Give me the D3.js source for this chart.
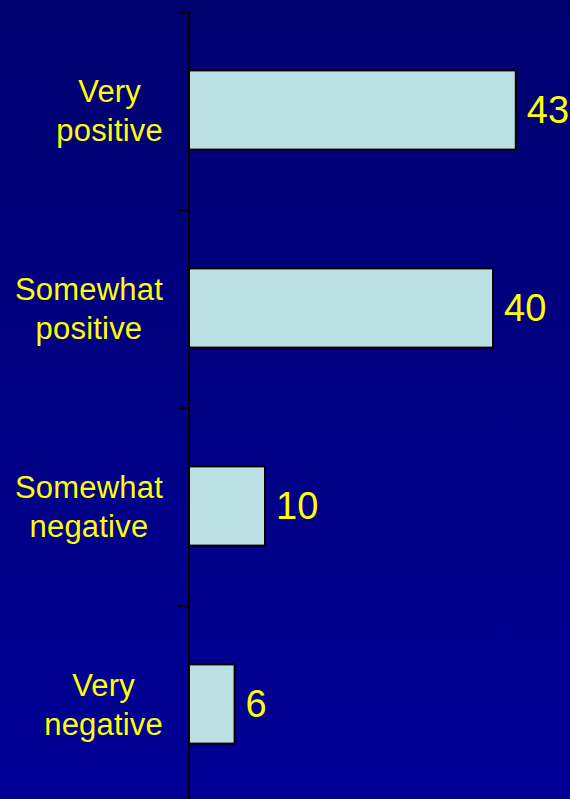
<!DOCTYPE html>
<html>
<head>
  <meta charset="utf-8">
  <title>Opinion bars</title>
  <style>
    body { margin: 0; background: #000080; }
    svg { display: block; }
    text { font-family: "Liberation Sans", Arial, sans-serif; fill: #FFFF00; }
  </style>
</head>
<body>
  <script src="https://cdn.jsdelivr.net/npm/d3@7/dist/d3.min.js"></script>
  <script>
    // data
    var categories = ["Very positive", "Somewhat positive", "Somewhat negative", "Very negative"];
    var labelLines = [["Very", "positive"], ["Somewhat", "positive"], ["Somewhat", "negative"], ["Very", "negative"]];
    var values = [43, 40, 10, 6];

    var width = 570, height = 799;
    var margin = {top: 12, left: 189};

    var svg = d3.select("body").append("svg")
      .attr("width", width)
      .attr("height", height);

    // background gradient, darker at top
    var defs = svg.append("defs");
    var grad = defs.append("linearGradient")
      .attr("id", "bg")
      .attr("x1", 0).attr("y1", 0).attr("x2", 0).attr("y2", 1);
    grad.append("stop").attr("offset", "0%").attr("stop-color", "#000070");
    grad.append("stop").attr("offset", "100%").attr("stop-color", "#000096");
    svg.append("rect").attr("width", width).attr("height", height).attr("fill", "url(#bg)");

    // scales
    var y = d3.scaleBand().domain(categories).range([margin.top, margin.top + 198 * 4]).padding(0);
    var yBar = d3.scaleBand().domain(categories).range([margin.top, margin.top + 198 * 4])
      .paddingInner(0.6).paddingOuter(0.3);
    var x = d3.scaleLinear().domain([0, 75]).range([margin.left, margin.left + 570]);

    // bars
    svg.append("g").selectAll("rect")
      .data(categories)
      .enter().append("rect")
      .attr("x", x(0))
      .attr("y", function(d) { return yBar(d) - 1; })
      .attr("width", function(d, i) { return x(values[i]) - x(0); })
      .attr("height", yBar.bandwidth())
      .attr("fill", "#BBE0E3")
      .attr("stroke", "#000")
      .attr("stroke-width", 2);

    // axis line and ticks at band boundaries
    var axis = svg.append("g");
    axis.append("line")
      .attr("x1", x(0)).attr("x2", x(0))
      .attr("y1", margin.top).attr("y2", height)
      .attr("stroke", "#000").attr("stroke-width", 2);
    axis.selectAll(".tick")
      .data(categories)
      .enter().append("line")
      .attr("class", "tick")
      .attr("x1", x(0) - 11).attr("x2", x(0))
      .attr("y1", function(d) { return y(d); })
      .attr("y2", function(d) { return y(d); })
      .attr("stroke", "#000").attr("stroke-width", 2);

    // value labels
    svg.append("g").selectAll("text")
      .data(categories)
      .enter().append("text")
      .attr("x", function(d, i) { return x(values[i]) + 11; })
      .attr("y", function(d) { return y(d) + y.bandwidth() / 2 + 12; })
      .attr("font-size", 38)
      .text(function(d, i) { return values[i]; });

    // category labels: block right-aligned, lines centred inside it
    var rightEdge = 163;
    categories.forEach(function(c, i) {
      var cy = y(c) + y.bandwidth() / 2 - 1;
      var g = svg.append("g");
      var t = g.selectAll("text")
        .data(labelLines[i])
        .enter().append("text")
        .attr("font-size", 31)
        .attr("letter-spacing", 0.2)
        .attr("text-anchor", "middle")
        .attr("y", function(d, j) { return cy - 8.5 + j * 39; })
        .text(function(d) { return d; });
      var maxW = 0;
      t.each(function() { maxW = Math.max(maxW, this.getComputedTextLength()); });
      t.attr("x", rightEdge - maxW / 2);
    });
  </script>
</body>
</html>
